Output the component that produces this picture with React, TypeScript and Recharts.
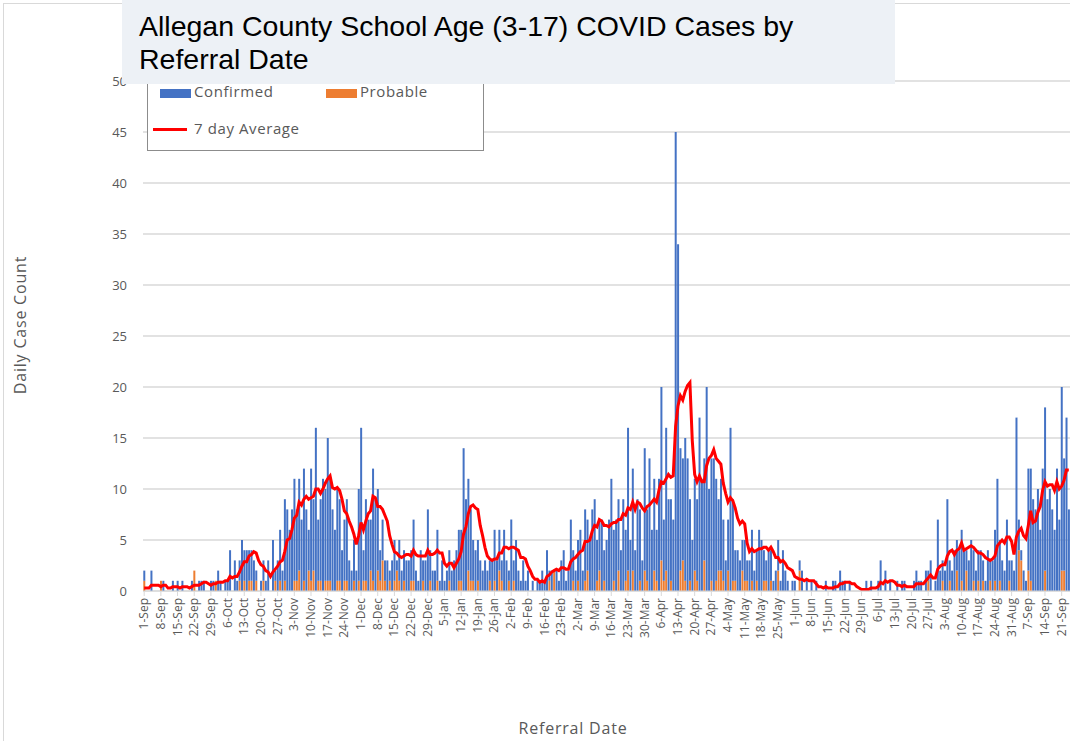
import { ComposedChart, Bar, Line, XAxis, YAxis, CartesianGrid } from "recharts"

// daily counts from 1-Sep-2020, one row per week
const confirmed = [
  1, 0, 0, 2, 0, 0, 0,
  0, 1, 0, 0, 0, 1, 0,
  1, 0, 1, 0, 0, 0, 1,
  0, 0, 1, 1, 1, 0, 0,
  1, 1, 0, 2, 1, 0, 1,
  1, 4, 0, 3, 1, 2, 5,
  3, 4, 3, 3, 3, 1, 0,
  1, 2, 1, 3, 0, 5, 1,
  3, 5, 2, 8, 8, 6, 8,
  10, 7, 9, 7, 11, 8, 4,
  11, 7, 16, 6, 8, 11, 9,
  14, 10, 8, 6, 9, 8, 4,
  6, 8, 3, 2, 4, 2, 9,
  16, 3, 8, 7, 5, 11, 9,
  8, 3, 4, 2, 3, 1, 3,
  4, 1, 4, 2, 3, 3, 3,
  3, 6, 2, 1, 4, 2, 3,
  8, 3, 2, 2, 5, 1, 3,
  1, 2, 3, 2, 3, 4, 5,
  5, 14, 9, 9, 7, 4, 4,
  4, 3, 2, 3, 2, 2, 3,
  5, 3, 4, 2, 6, 3, 1,
  7, 2, 5, 2, 1, 3, 1,
  2, 0, 1, 0, 1, 1, 2,
  1, 4, 1, 2, 0, 2, 1,
  3, 4, 1, 2, 7, 3, 2,
  4, 6, 2, 7, 5, 5, 8,
  9, 4, 5, 7, 3, 5, 7,
  11, 5, 7, 7, 4, 9, 5,
  14, 5, 10, 4, 9, 7, 3,
  12, 7, 13, 6, 9, 5, 11,
  17, 6, 14, 9, 8, 7, 45,
  34, 12, 10, 14, 13, 8, 5,
  9, 8, 17, 11, 10, 20, 10,
  12, 13, 10, 7, 9, 6, 3,
  5, 16, 8, 3, 4, 3, 3,
  4, 2, 3, 5, 2, 3, 6,
  5, 3, 2, 4, 3, 1, 2,
  3, 1, 4, 2, 1, 0, 1,
  1, 0, 1, 2, 0, 1, 0,
  1, 0, 1, 0, 0, 0, 1,
  0, 0, 1, 1, 0, 2, 1,
  1, 0, 1, 0, 0, 0, 0,
  0, 0, 1, 0, 1, 0, 0,
  1, 3, 0, 2, 0, 1, 0,
  0, 1, 0, 1, 1, 0, 0,
  0, 1, 2, 1, 1, 0, 2,
  1, 3, 0, 1, 7, 2, 2,
  2, 9, 2, 2, 4, 3, 4,
  5, 4, 2, 3, 5, 3, 2,
  3, 4, 2, 1, 4, 2, 3,
  5, 11, 4, 3, 2, 7, 2,
  3, 2, 17, 3, 1, 2, 1,
  10, 11, 9, 8, 10, 6, 12,
  16, 9, 10, 8, 6, 12, 7,
  18, 11, 17, 8,
]

const probable = [
  1, 0, 0, 0, 0, 0, 0,
  1, 0, 0, 0, 0, 0, 0,
  0, 0, 0, 0, 0, 0, 0,
  2, 0, 0, 0, 0, 0, 0,
  0, 0, 1, 0, 0, 0, 0,
  0, 0, 0, 0, 0, 1, 0,
  1, 0, 1, 1, 0, 1, 0,
  0, 1, 0, 0, 0, 0, 1,
  0, 1, 0, 1, 0, 0, 0,
  1, 1, 2, 0, 1, 0, 2,
  1, 2, 0, 1, 1, 0, 1,
  1, 1, 0, 0, 1, 1, 0,
  1, 1, 0, 0, 1, 0, 1,
  0, 1, 1, 0, 2, 1, 0,
  2, 1, 3, 1, 0, 1, 0,
  1, 2, 1, 0, 1, 0, 0,
  1, 1, 0, 0, 0, 1, 0,
  0, 1, 0, 0, 1, 0, 0,
  0, 0, 1, 0, 0, 0, 1,
  1, 0, 0, 2, 1, 1, 0,
  1, 0, 0, 0, 0, 1, 0,
  1, 0, 2, 1, 0, 0, 1,
  0, 1, 0, 0, 0, 0, 0,
  0, 0, 0, 0, 0, 0, 0,
  0, 0, 1, 0, 2, 0, 0,
  0, 0, 0, 0, 0, 1, 0,
  1, 0, 0, 1, 2, 0, 0,
  0, 1, 2, 0, 1, 0, 0,
  0, 1, 0, 2, 0, 0, 1,
  2, 0, 2, 0, 0, 1, 0,
  2, 1, 0, 0, 2, 1, 0,
  3, 1, 2, 0, 1, 0, 0,
  0, 2, 3, 1, 0, 1, 0,
  2, 1, 0, 0, 3, 0, 0,
  1, 0, 1, 2, 2, 1, 0,
  2, 0, 1, 1, 0, 0, 2,
  1, 1, 0, 1, 0, 1, 0,
  0, 1, 1, 0, 1, 0, 0,
  2, 0, 0, 0, 0, 0, 0,
  0, 0, 2, 0, 0, 0, 0,
  0, 0, 0, 0, 0, 0, 0,
  0, 0, 0, 0, 0, 0, 0,
  0, 0, 0, 0, 0, 0, 0,
  0, 0, 0, 0, 0, 0, 0,
  0, 0, 0, 0, 0, 0, 0,
  0, 0, 0, 0, 0, 0, 0,
  0, 0, 0, 0, 0, 0, 0,
  1, 0, 0, 0, 0, 0, 1,
  0, 0, 1, 0, 0, 2, 0,
  1, 0, 2, 0, 0, 1, 0,
  1, 0, 1, 0, 0, 1, 0,
  1, 0, 1, 0, 0, 0, 1,
  0, 0, 0, 4, 3, 0, 0,
  2, 1, 0, 0, 0, 0, 0,
  2, 0, 0, 0, 0, 0, 0,
  2, 2, 0, 0,
]

const months = ["Jan", "Feb", "Mar", "Apr", "May", "Jun", "Jul", "Aug", "Sep", "Oct", "Nov", "Dec"]
const yTicks = [0, 5, 10, 15, 20, 25, 30, 35, 40, 45, 50]

const dayLabel = (i: number) => {
  const d = new Date(Date.UTC(2020, 8, 1 + i))
  return `${d.getUTCDate()}-${months[d.getUTCMonth()]}`
}

// trailing 7 day average of confirmed + probable (days before 1-Sep count as 0)
const data = confirmed.map((c, i) => {
  let sum = 0
  for (let k = Math.max(0, i - 6); k <= i; k++) sum += confirmed[k] + probable[k]
  return { day: dayLabel(i), confirmed: c, probable: probable[i], avg: sum / 7 }
})

const gray = "#595959"
const font = "'Open Sans', Lato, sans-serif"

const DateTick = ({ x, y, payload }: any) => (
  <g transform={`translate(${x},${y})`}>
    <text x={0} y={0} dy={4} textAnchor="end" transform="rotate(-90)" fontSize={12} fill={gray} fontFamily={font}>
      {payload.value}
    </text>
  </g>
)

export default function App() {
  return (
    <div style={{ position: "absolute", left: 0, top: 0, width: 1070, height: 741, overflow: "hidden", background: "#fff" }}>
      <div style={{ position: "absolute", left: 3, top: 3, width: 1200, height: 1000, border: "1px solid #d9d9d9" }} />
      <div style={{ position: "absolute", left: 0, top: 0 }}>
        <ComposedChart
          width={1070}
          height={741}
          data={data}
          margin={{ top: 81, right: 0, bottom: 0, left: 0 }}
          barCategoryGap="12%"
        >
          <CartesianGrid vertical={false} stroke="#d9d9d9" strokeWidth={1.5} />
          <XAxis
            dataKey="day"
            interval={6}
            height={150}
            tick={<DateTick />}
            tickLine={{ stroke: "#d9d9d9" }}
            tickSize={5}
            axisLine={{ stroke: "#d9d9d9" }}
          />
          <YAxis
            width={143}
            domain={[0, 50]}
            ticks={yTicks}
            axisLine={false}
            tickLine={false}
            tick={{ fontSize: 13, fill: gray, fontFamily: font }}
            tickMargin={10}
          />
          <Bar dataKey="probable" stackId="a" fill="#ed7d31" isAnimationActive={false} />
          <Bar dataKey="confirmed" stackId="a" fill="#4472c4" isAnimationActive={false} />
          <Line dataKey="avg" type="linear" stroke="#ff0000" strokeWidth={3} dot={false} isAnimationActive={false} />
        </ComposedChart>
      </div>

      <div
        style={{
          position: "absolute", left: 147, top: 60, width: 335, height: 89,
          border: "1px solid #8c8c8c", background: "#fff", fontFamily: font, fontSize: 15, color: gray,
          letterSpacing: 0.6,
        }}
      >
        <div style={{ position: "absolute", left: 12, top: 28, width: 31, height: 9, background: "#4472c4" }} />
        <div style={{ position: "absolute", left: 46, top: 20 }}>Confirmed</div>
        <div style={{ position: "absolute", left: 178, top: 28, width: 31, height: 9, background: "#ed7d31" }} />
        <div style={{ position: "absolute", left: 212, top: 20 }}>Probable</div>
        <div style={{ position: "absolute", left: 5, top: 67, width: 34, height: 3, background: "#ff0000" }} />
        <div style={{ position: "absolute", left: 46, top: 57 }}>7 day Average</div>
      </div>

      <div
        style={{
          position: "absolute", left: 122, top: 0, width: 773, height: 84, background: "#edf1f6",
          fontFamily: "'Liberation Sans', Arial, sans-serif", fontSize: 28.5, lineHeight: "33px", color: "#000",
          padding: "10px 0 0 17px", boxSizing: "border-box",
        }}
      >
        Allegan County School Age (3-17) COVID Cases by
        <br />
        Referral Date
      </div>

      <div
        style={{
          position: "absolute", left: 20, top: 325, transform: "translate(-50%, -50%) rotate(-90deg)",
          whiteSpace: "nowrap", fontFamily: font, fontSize: 16, color: gray, letterSpacing: 0.8,
        }}
      >
        Daily Case Count
      </div>
      <div
        style={{
          position: "absolute", left: 573, top: 728, transform: "translate(-50%, -50%)",
          whiteSpace: "nowrap", fontFamily: font, fontSize: 16, color: gray, letterSpacing: 0.8,
        }}
      >
        Referral Date
      </div>
    </div>
  )
}
